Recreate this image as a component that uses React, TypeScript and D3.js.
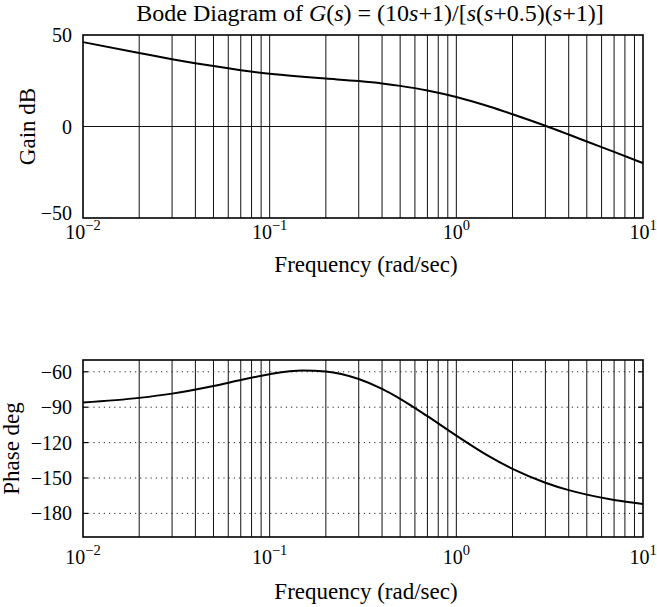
import React from "react";
import * as d3 from "d3";

const freqs = [0.01, 0.02, 0.03, 0.05, 0.07, 0.1, 0.15, 0.2, 0.3, 0.4, 0.5, 0.7, 1, 1.5, 2, 3, 4, 5, 7, 10];
const gainDb = [46.1, 40.2, 36.8, 33.0, 30.8, 28.8, 27.2, 26.2, 24.8, 23.5, 22.2, 19.7, 16.1, 10.9, 6.7, 0.4, -4.4, -8.2, -13.9, -20.0];
const phaseDeg = [-86.0, -82.1, -78.5, -72.0, -67.0, -62.0, -58.9, -59.7, -66.1, -74.5, -82.9, -97.6, -114.1, -131.7, -142.3, -154.0, -160.3, -164.1, -168.6, -172.0];

const gainTicks = [50, 0, -50];
const phaseTicks = [-60, -90, -120, -150, -180];
const decadeTicks = [0.01, 0.1, 1, 10];
const decadeExp = ["\u22122", "\u22121", "0", "1"];

const W = 657;
const H = 607;
const L = 83;
const R = 643;
const FONT = "'Liberation Serif', 'DejaVu Serif', serif";

function minorGrid(): number[] {
  const out: number[] = [];
  for (let e = -2; e < 1; e++) {
    for (let m = 1; m <= 9; m++) {
      const v = m * Math.pow(10, e);
      if (v > 0.01 && v < 10) out.push(v);
    }
  }
  return out;
}

export default function App() {
  const x = d3.scaleLog().domain([0.01, 10]).range([L, R]);
  const yG = d3.scaleLinear().domain([-50, 50]).range([218, 35]);
  const yP = d3.scaleLinear().domain([-200, -50]).range([537, 360]);
  const grid = minorGrid();

  const gLine = d3
    .line<number>()
    .x((_, i) => x(freqs[i]))
    .y((d) => yG(d))
    .curve(d3.curveMonotoneX)(gainDb) as string;
  const pLine = d3
    .line<number>()
    .x((_, i) => x(freqs[i]))
    .y((d) => yP(d))
    .curve(d3.curveMonotoneX)(phaseDeg) as string;

  const xLabels = (yBase: number) =>
    decadeTicks.map((t, i) => (
      <text key={"xl" + i} x={x(t)} y={yBase} textAnchor="middle" fontSize={20} fontFamily={FONT}>
        10
        <tspan dy={-9} fontSize={14.5}>
          {decadeExp[i]}
        </tspan>
      </text>
    ));

  // the bottom gain label sits slightly above its tick, as in the reference
  const gainLabelDy = (t: number) => (t === -50 ? 2 : 7);

  return (
    <svg width={W} height={H} style={{ position: "absolute", left: 0, top: 0, background: "#fff" }}>
      <rect x={0} y={0} width={W} height={H} fill="#fff" />
      {/* Title */}
      <text x={370} y={21} textAnchor="middle" fontSize={24} fontFamily={FONT}>
        Bode Diagram of <tspan fontStyle="italic">G</tspan>(<tspan fontStyle="italic">s</tspan>) = (10
        <tspan fontStyle="italic">s</tspan>+1)/[<tspan fontStyle="italic">s</tspan>(<tspan fontStyle="italic">s</tspan>
        +0.5)(<tspan fontStyle="italic">s</tspan>+1)]
      </text>

      {/* Gain plot */}
      <g>
        {grid.map((g, i) => (
          <line key={"gg" + i} x1={x(g)} x2={x(g)} y1={yG(50)} y2={yG(-50)} stroke="#111" strokeWidth={1} />
        ))}
        <line x1={L} x2={R} y1={yG(0)} y2={yG(0)} stroke="#111" strokeWidth={1} />
        <rect x={L} y={yG(50)} width={R - L} height={yG(-50) - yG(50)} fill="none" stroke="#000" strokeWidth={1.6} />
        <path d={gLine} fill="none" stroke="#000" strokeWidth={2} />
        {gainTicks.map((t) => (
          <text key={"gt" + t} x={72} y={yG(t) + gainLabelDy(t)} textAnchor="end" fontSize={20} fontFamily={FONT}>
            {t < 0 ? "\u2212" + Math.abs(t) : t}
          </text>
        ))}
        {xLabels(239)}
        <text
          transform={`translate(35,${(yG(50) + yG(-50)) / 2}) rotate(-90)`}
          textAnchor="middle"
          fontSize={23}
          fontFamily={FONT}
        >
          Gain dB
        </text>
        <text x={366} y={272} textAnchor="middle" fontSize={23} fontFamily={FONT}>
          Frequency (rad/sec)
        </text>
      </g>

      {/* Phase plot */}
      <g>
        {phaseTicks.map((t) => (
          <line
            key={"pg" + t}
            x1={L}
            x2={R}
            y1={yP(t)}
            y2={yP(t)}
            stroke="#222"
            strokeWidth={1}
            strokeDasharray="1.2,4"
          />
        ))}
        {grid.map((g, i) => (
          <line key={"pv" + i} x1={x(g)} x2={x(g)} y1={yP(-50)} y2={yP(-200)} stroke="#111" strokeWidth={1} />
        ))}
        {phaseTicks.map((t) => (
          <g key={"pt" + t}>
            <line x1={L} x2={L + 5} y1={yP(t)} y2={yP(t)} stroke="#000" strokeWidth={1.2} />
            <line x1={R - 5} x2={R} y1={yP(t)} y2={yP(t)} stroke="#000" strokeWidth={1.2} />
          </g>
        ))}
        <rect x={L} y={yP(-50)} width={R - L} height={yP(-200) - yP(-50)} fill="none" stroke="#000" strokeWidth={1.6} />
        <path d={pLine} fill="none" stroke="#000" strokeWidth={2} />
        {phaseTicks.map((t) => (
          <text key={"ptl" + t} x={72} y={yP(t) + 7} textAnchor="end" fontSize={20} fontFamily={FONT}>
            {"\u2212" + Math.abs(t)}
          </text>
        ))}
        {xLabels(564)}
        <text
          transform={`translate(19,${(yP(-50) + yP(-200)) / 2}) rotate(-90)`}
          textAnchor="middle"
          fontSize={23}
          fontFamily={FONT}
        >
          Phase deg
        </text>
        <text x={366} y={599} textAnchor="middle" fontSize={23} fontFamily={FONT}>
          Frequency (rad/sec)
        </text>
      </g>
    </svg>
  );
}
